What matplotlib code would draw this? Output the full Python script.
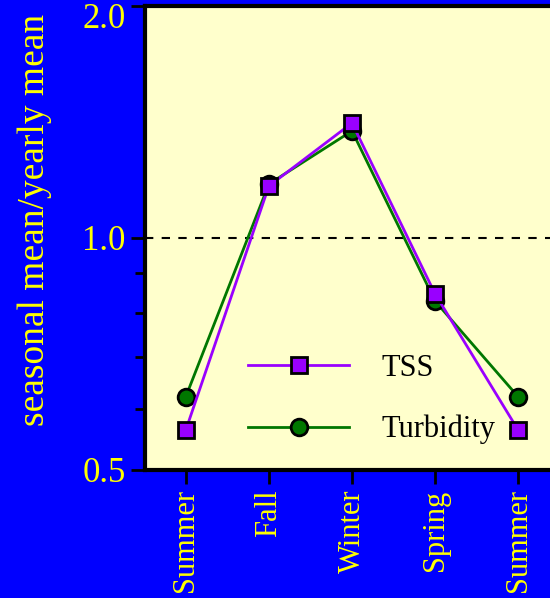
import numpy as np
import matplotlib.pyplot as plt
from matplotlib.ticker import FixedLocator, NullFormatter
from matplotlib.transforms import ScaledTranslation

# seasonal mean / yearly mean
seasons = ['Summer', 'Fall', 'Winter', 'Spring', 'Summer']
tss = [0.563, 1.168, 1.41, 0.846, 0.563]
turbidity = [0.622, 1.175, 1.377, 0.828, 0.622]

plt.rcParams['font.family'] = ['Liberation Serif', 'DejaVu Serif']

fig = plt.figure(figsize=(5.5, 5.98), dpi=100, facecolor='#0000ff')
ax = fig.add_axes([145 / 550, 1 - 470 / 598, (559 - 145) / 550, (470 - 6) / 598])
ax.set_facecolor('#ffffcc')

x = np.arange(len(seasons))

ax.axhline(1.0, color='black', lw=1.5, ls=(0, (4, 4)), zorder=1)

l_turb, = ax.plot(x, turbidity, color='#007700', lw=2, marker='o', ms=12,
                  mfc='#007700', mec='black', mew=2, label='Turbidity', zorder=3)
l_tss, = ax.plot(x, tss, color='#9900ff', lw=2, marker='s', ms=12,
                 mfc='#9900ff', mec='black', mew=2, label='TSS', zorder=4)

ax.set_yscale('log')
ax.set_ylim(0.5, 2.0)
ax.set_xlim(-0.49, 4.49)
ax.yaxis.set_major_locator(FixedLocator([0.5, 1.0, 2.0]))
ax.yaxis.set_minor_locator(FixedLocator([0.6, 0.7, 0.8, 0.9]))
ax.yaxis.set_minor_formatter(NullFormatter())
ax.set_yticklabels(['0.5', '1.0', '2.0'])

ax.set_xticks(x)
ax.set_xticklabels(seasons, rotation=90, va='top')

ax.tick_params(axis='both', which='major', direction='out', length=10, width=2,
               colors='black', labelcolor='yellow')
ax.tick_params(axis='x', labelsize=22, pad=4)
ax.tick_params(axis='y', labelsize=25, pad=4)
ax.tick_params(axis='y', which='minor', direction='out', length=7, width=2, colors='black')

# keep the top label inside the figure
top_lab = ax.get_yticklabels()[-1]
top_lab.set_transform(top_lab.get_transform() + ScaledTranslation(0, -7 / 72, fig.dpi_scale_trans))

for sp in ax.spines.values():
    sp.set_linewidth(3)
    sp.set_color('black')

ax.set_ylabel('seasonal mean/yearly mean', color='yellow', fontsize=27)
ax.yaxis.set_label_coords(-0.225, 0.539)

leg = ax.legend([l_tss, l_turb], ['TSS', 'Turbidity'], frameon=False, fontsize=22,
                handlelength=3.3, handletextpad=1.05, labelspacing=1.05,
                loc='lower left', bbox_to_anchor=(0.183, -0.004))

fig.savefig('out.png', dpi=100, facecolor=fig.get_facecolor())
